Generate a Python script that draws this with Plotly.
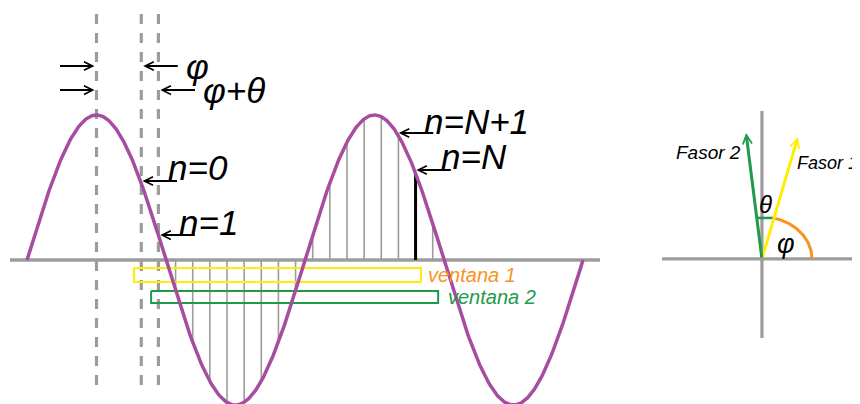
import numpy as np
import plotly.graph_objects as go

# ---------------- data ----------------
# sampled sine wave: phase in degrees, amplitude normalised to 1
wave_phase = [0.0, 720.0]
peak_phase = 90.0
phi_deg = 148.0            # phase of sample n = 0
theta_deg = 22.2           # phase step between consecutive samples
N = 16                     # last sample of window 1
stem_n = list(range(2, N + 2))          # samples drawn as stems (n = 2 .. N+1)

label_text = ["<i>n=0</i>", "<i>n=1</i>", "<i>n=N</i>", "<i>n=N+1</i>"]
label_cycle = [0, 0, 1, 1]                 # which hump of the wave the arrow points at
label_level = [0.545, 0.172, 0.621, 0.876]  # arrow height (amplitude)
label_x = [180.0, 194.0, 533.5, 511.5]      # text left edge (phase)
label_y = [0.641, 0.262, 0.717, 0.952]      # text centre (amplitude)

window_names = ["ventana 1", "ventana 2"]
window_first_n = [0, 1]
window_last_n = [N, N + 1]
window_top = [-0.055, -0.214]
window_bottom = [-0.152, -0.297]
window_colors = ["#FFEE00", "#1E9A4A"]
window_text_colors = ["#F7931E", "#1E9A4A"]

# phasor diagram
phasor_names = ["Fasor 1", "Fasor 2"]
phasor_angle = [73.6, 97.2]
phasor_len = [1.0, 1.0]
phasor_colors = ["#FFEE00", "#1E9A4A"]

PURPLE = "#A64DA0"
GRAY = "#9C9C9C"
FONT = "Liberation Sans, Arial, sans-serif"

fig = go.Figure()

# ---------- wave panel (x = phase, y = amplitude) ----------
# horizontal axis line
fig.add_trace(go.Scatter(x=[-22, 742], y=[0, 0], mode="lines",
                         line=dict(color=GRAY, width=3.5), hoverinfo="skip"))

# sample stems
sx, sy = [], []
for n in stem_n:
    if n == N:
        continue
    p = phi_deg + n * theta_deg
    sx += [p, p, None]
    sy += [0, np.sin(np.radians(p)), None]
fig.add_trace(go.Scatter(x=sx, y=sy, mode="lines",
                         line=dict(color=GRAY, width=1.6), hoverinfo="skip"))

# dashed reference lines (peak, n=0, n=1)
dx, dy = [], []
for p in [peak_phase, phi_deg, phi_deg + theta_deg]:
    dx += [p, p, None]
    dy += [-0.862, 1.724, None]
fig.add_trace(go.Scatter(x=dx, y=dy, mode="lines",
                         line=dict(color=GRAY, width=3.2, dash="10px,9px"),
                         hoverinfo="skip"))

# windows
for i in range(2):
    a = phi_deg + window_first_n[i] * theta_deg - 9.5
    b = phi_deg + window_last_n[i] * theta_deg + 7.0
    t, bt = window_top[i], window_bottom[i]
    fig.add_trace(go.Scatter(x=[a, b, b, a, a], y=[t, t, bt, bt, t], mode="lines",
                             line=dict(color=window_colors[i], width=2),
                             hoverinfo="skip"))
    fig.add_annotation(x=b + 7 + 3 * i, y=(t + bt) / 2, xref="x", yref="y",
                       text="<i>" + window_names[i] + "</i>", showarrow=False,
                       xanchor="left", yanchor="middle",
                       font=dict(family=FONT, size=20, color=window_text_colors[i]))

# black stem n = N
pN = phi_deg + N * theta_deg
fig.add_trace(go.Scatter(x=[pN, pN], y=[0, np.sin(np.radians(pN))], mode="lines",
                         line=dict(color="black", width=3), hoverinfo="skip"))

# the sine wave
t_deg = np.linspace(wave_phase[0], wave_phase[1], 721)
fig.add_trace(go.Scatter(x=t_deg, y=np.sin(np.radians(t_deg)), mode="lines",
                         line=dict(color=PURPLE, width=3.5), hoverinfo="skip"))

ARROW = dict(showarrow=True, arrowhead=5, arrowsize=0.85, arrowwidth=2,
             arrowcolor="black", standoff=2, text="", xref="x", yref="y")

# phase arrows at the top
for yy, tip in [(1.338, phi_deg), (1.172, phi_deg + theta_deg)]:
    fig.add_annotation(x=peak_phase, y=yy, ax=-38, ay=0, **ARROW)
    fig.add_annotation(x=tip, y=yy, ax=38, ay=0, **ARROW)

fig.add_annotation(x=203.0, y=1.338, xref="x", yref="y", text="<i>φ</i>",
                   showarrow=False, xanchor="left", yanchor="middle",
                   font=dict(family=FONT, size=35, color="black"))
fig.add_annotation(x=225.0, y=1.166, xref="x", yref="y", text="<i>φ+θ</i>",
                   showarrow=False, xanchor="left", yanchor="middle",
                   font=dict(family=FONT, size=35, color="black"))

# sample labels with arrows pointing at the curve
for i in range(4):
    lvl = label_level[i]
    tip = label_cycle[i] * 360 + 180 - np.degrees(np.arcsin(lvl))
    fig.add_annotation(x=tip, y=lvl, ax=38, ay=0, **ARROW)
    fig.add_annotation(x=label_x[i], y=label_y[i], xref="x", yref="y",
                       text=label_text[i], showarrow=False,
                       xanchor="left", yanchor="middle",
                       font=dict(family=FONT, size=35, color="black"))

# ---------- phasor panel (x2 / y2, unit = phasor length) ----------
fig.add_trace(go.Scatter(x=[-0.787, 0.756, None, 0, 0], y=[0, 0, None, -0.622, 1.165],
                         mode="lines", line=dict(color=GRAY, width=3.2),
                         xaxis="x2", yaxis="y2", hoverinfo="skip"))

# phi arc (orange)
a = np.radians(np.linspace(0, 77, 60))
fig.add_trace(go.Scatter(x=0.394 * np.cos(a), y=0.331 * np.sin(a), mode="lines",
                         line=dict(color="#F7931E", width=3),
                         xaxis="x2", yaxis="y2", hoverinfo="skip"))

# theta segment (green) between the phasors
h = 0.323
xs = [h / np.tan(np.radians(ang)) for ang in phasor_angle]
fig.add_trace(go.Scatter(x=[xs[1], xs[0]], y=[h, h], mode="lines",
                         line=dict(color="#1E9A4A", width=2.5),
                         xaxis="x2", yaxis="y2", hoverinfo="skip"))

for i in range(2):
    ang = np.radians(phasor_angle[i])
    fig.add_annotation(x=phasor_len[i] * np.cos(ang), y=phasor_len[i] * np.sin(ang),
                       ax=0, ay=0, xref="x2", yref="y2", axref="x2", ayref="y2",
                       text="", showarrow=True, arrowhead=5, arrowsize=0.6,
                       arrowwidth=3, arrowcolor=phasor_colors[i], standoff=0)

fig.add_annotation(x=0.262, y=0.756, xref="x2", yref="y2", text="<i>Fasor 1</i>",
                   showarrow=False, xanchor="left", yanchor="middle",
                   font=dict(family=FONT, size=18, color="black"))
fig.add_annotation(x=-0.15, y=0.835, xref="x2", yref="y2", text="<i>Fasor 2</i>",
                   showarrow=False, xanchor="right", yanchor="middle",
                   font=dict(family=FONT, size=19, color="black"))
fig.add_annotation(x=0.031, y=0.425, xref="x2", yref="y2", text="<i>θ</i>",
                   showarrow=False, xanchor="center", yanchor="middle",
                   font=dict(family=FONT, size=24, color="black"))
fig.add_annotation(x=0.189, y=0.118, xref="x2", yref="y2", text="<i>φ</i>",
                   showarrow=False, xanchor="center", yanchor="middle",
                   font=dict(family=FONT, size=27, color="black"))

# the page shows the figure offset by the 8 px body margin; the axis
# ranges are set so that the visible region matches the reference frame
fig.update_layout(
    width=860, height=404,
    margin=dict(l=0, r=0, t=0, b=0),
    paper_bgcolor="white", plot_bgcolor="white",
    showlegend=False,
    xaxis=dict(range=[-24.6, 1089.1], visible=False, domain=[0, 1], fixedrange=True),
    yaxis=dict(range=[-1.048, 1.738], visible=False, domain=[0, 1], fixedrange=True),
    xaxis2=dict(range=[-5.937, 0.835], visible=False, overlaying="x", anchor="y2",
                fixedrange=True),
    yaxis2=dict(range=[-1.205, 1.976], visible=False, overlaying="y", anchor="x2",
                fixedrange=True),
)

fig.write_html("out.html")
